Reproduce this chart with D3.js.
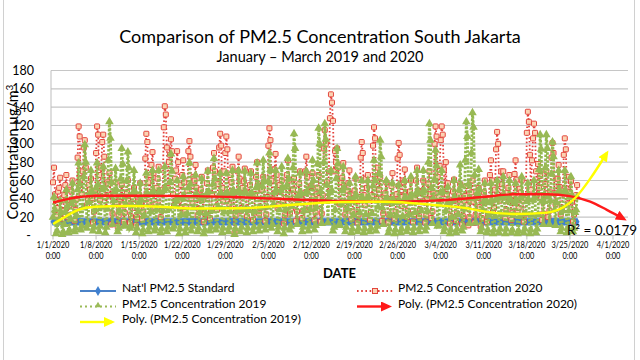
<!DOCTYPE html>
<html>
<head>
<meta charset="utf-8">
<script src="https://cdn.jsdelivr.net/npm/d3@7/dist/d3.min.js"></script>
<style>
  body { margin: 0; background: #fff; }
  svg { display: block; }
  text { font-family: Lato, "Open Sans", sans-serif; fill: #000; }
</style>
</head>
<body>
<div id="chart"></div>
<script>
// readings per day (hour of day), Jan 1 .. Mar 26
var readHours = [0, 4, 8, 12, 16, 20];

// PM2.5 2020, one row per day
var pm2020 = [
  [58,74,45,22,30,48],[52,63,40,18,27,44],[55,66,38,20,33,50],[48,60,35,16,28,40],
  [85,119,108,62,45,70],[96,104,74,33,40,55],[50,62,41,14,26,47],
  [90,119,110,66,38,74],[102,110,86,42,30,58],[56,68,44,12,24,46],[45,58,36,10,22,40],
  [42,55,33,15,25,39],[47,60,38,14,21,43],[40,52,30,11,20,37],
  [44,57,35,18,26,41],[84,111,102,58,36,66],[77,91,68,30,34,52],[62,75,48,20,28,50],
  [118,141,132,96,52,80],[88,105,92,45,33,62],[71,92,80,38,30,55],
  [66,82,58,26,31,49],[92,103,86,40,35,64],[60,77,52,22,29,48],[50,64,39,15,24,43],
  [57,71,46,19,27,45],[74,90,70,31,28,56],[96,111,98,52,37,70],
  [90,108,94,47,34,66],[58,75,44,3,22,47],[70,86,62,27,30,52],[59,73,48,21,28,46],
  [55,70,44,17,25,45],[64,80,56,24,30,50],[50,64,40,16,23,42],
  [98,117,104,60,40,72],[72,89,66,30,33,55],[48,60,37,13,22,41],[66,82,60,25,29,50],
  [50,62,40,16,26,44],[56,70,45,19,27,46],[70,86,64,28,31,53],
  [54,68,42,17,25,45],[52,66,41,15,24,44],[95,115,100,58,38,70],[128,154,145,125,70,92],
  [80,95,74,35,34,58],[63,79,54,23,29,49],[57,71,45,18,26,46],
  [49,62,38,14,23,42],[85,102,90,44,33,62],[52,66,41,17,25,44],[98,118,106,62,40,74],
  [50,64,40,16,24,43],[46,58,36,14,22,40],[54,68,43,18,26,45],
  [84,101,88,42,32,60],[58,72,47,20,27,47],[48,60,37,15,23,41],[60,74,49,21,28,48],
  [47,60,38,14,22,40],[56,70,45,19,26,46],[100,119,108,64,42,76],
  [104,119,110,72,45,80],[45,57,35,13,21,39],[48,61,38,16,24,42],[44,56,34,12,21,38],
  [43,54,33,11,20,37],[47,60,37,14,22,41],[41,52,31,10,19,36],
  [47,60,38,15,23,41],[66,82,60,26,30,50],[94,113,100,56,38,70],[56,70,45,19,27,47],
  [52,66,42,17,25,44],[67,82,61,27,30,51],[47,60,38,15,23,41],
  [112,135,124,88,50,82],[106,122,112,70,44,78],[52,65,42,17,24,44],[56,70,46,20,27,47],
  [85,101,90,46,34,62],[62,77,53,23,29,49],[88,106,94,48,35,64],
  [47,59,37,15,23,41],[44,55]
];

// PM2.5 2019, same calendar days
var pm2019 = [
  [20,42,28,2,5,14],[18,38,25,1,4,12],[26,50,32,3,6,18],[35,57,38,4,8,22],
  [50,79,56,6,10,30],[64,99,80,8,12,36],[46,71,48,5,9,28],
  [52,79,55,4,10,31],[50,75,52,3,9,29],[82,124,106,58,12,38],[48,73,50,4,8,27],
  [62,95,78,10,11,34],[60,91,74,8,10,33],[47,71,48,3,8,26],
  [36,57,39,2,6,22],[44,68,46,4,9,26],[46,71,49,5,8,28],[45,71,47,3,7,27],
  [49,75,51,4,9,29],[58,89,70,7,10,33],[39,60,41,2,7,23],
  [41,64,43,3,8,24],[52,79,56,5,10,30],[43,66,45,4,8,25],[40,62,42,2,6,24],
  [46,70,48,5,9,27],[56,84,62,6,10,31],[44,68,46,3,8,26],
  [45,68,47,4,9,26],[46,71,49,1,7,27],[47,71,48,4,9,28],[46,70,47,3,8,27],
  [44,68,46,4,9,26],[52,79,55,5,10,30],[54,82,60,6,11,31],
  [59,90,72,8,12,34],[47,71,49,4,9,28],[49,75,52,2,8,29],[55,84,62,6,10,32],
  [74,111,95,40,12,37],[45,68,46,4,9,27],[46,70,48,5,10,28],
  [54,82,60,6,11,31],[78,117,100,48,13,38],[80,122,105,55,14,40],[47,71,49,5,9,28],
  [62,95,78,12,11,35],[49,75,52,4,9,29],[37,57,39,3,7,22],
  [42,64,44,4,8,25],[39,60,41,3,7,23],[40,60,42,4,8,24],[54,82,60,5,10,31],
  [68,104,86,30,12,36],[39,60,41,3,7,23],[37,57,39,2,6,22],
  [36,55,38,3,7,21],[39,60,41,4,8,23],[42,64,44,3,8,25],[46,71,48,4,9,27],
  [47,71,49,5,9,27],[80,122,104,52,13,40],[61,93,76,10,11,34],
  [47,71,48,4,8,27],[34,53,36,2,6,20],[39,60,41,3,7,23],[50,77,54,5,9,29],
  [82,124,108,56,13,40],[90,134,118,66,14,42],[47,72,50,4,8,28],
  [37,57,39,3,6,22],[36,57,38,2,6,21],[39,60,41,3,7,23],[41,64,43,2,7,24],
  [38,60,40,3,6,22],[36,57,38,2,5,21],[41,64,43,3,7,24],
  [37,57,39,2,6,22],[39,60,41,3,7,23],[72,110,94,38,12,37],[74,110,95,42,12,38],
  [67,102,86,28,11,36],[46,71,49,4,8,27],[47,71,48,3,8,27],
  [42,64,44,4,8,25],[28,42]
];

var natStandard = 15;

// polynomial trend lines (day offset from Jan 1, value)
var trend2020Days = [0, 4, 7, 15, 23, 30.4, 38.5, 46.7, 54, 62, 70.2, 74.8, 80.3, 84, 87.3, 90, 92.8];
var trend2020 =     [36, 41.7, 43.4, 43.4, 43, 41.7, 39.5, 37.6, 36.9, 38, 42.3, 45, 45, 43, 37, 28, 18];
var trend2019Days = [0, 2, 4, 6.8, 12.2, 17.7, 22.8, 30.4, 38.5, 46.7, 54, 62, 67.3, 70.2, 75.4, 80.3, 83, 85, 87.3, 90];
var trend2019 =     [12.5, 20.5, 27.8, 31.4, 32.2, 31.4, 29.5, 29.7, 33.3, 36.5, 36.9, 33.3, 29.7, 26, 23.5, 25, 31, 42, 62, 90];
var rSquared = "R² = 0.0179";

var yTicks = [0, 20, 40, 60, 80, 100, 120, 140, 160, 180];
var xTickLabels = ["1/1/2020", "1/8/2020", "1/15/2020", "1/22/2020", "1/29/2020", "2/5/2020", "2/12/2020",
  "2/19/2020", "2/26/2020", "3/4/2020", "3/11/2020", "3/18/2020", "3/25/2020", "4/1/2020"];
var legendLabels = ["Nat'l PM2.5 Standard", "PM2.5 Concentration 2020", "PM2.5 Concentration 2019",
  "Poly. (PM2.5 Concentration 2020)", "Poly. (PM2.5 Concentration 2019)"];

var W = 640, H = 360,
    plotLeft = 51, plotRight = 628,
    start = new Date(2020, 0, 1),
    parse = d3.timeParse("%m/%d/%Y");

var x = d3.scaleTime().domain([start, new Date(2020, 3, 1)]).range([53, 613]);
var y = d3.scaleLinear().domain([0, 180]).range([235.5, 70.5]);

function dayToDate(d) { return new Date(start.getTime() + d * 864e5); }

function flatten(days) {
  var pts = [];
  days.forEach(function(vals, d) {
    vals.forEach(function(v, k) {
      pts.push({t: new Date(2020, 0, 1 + d, readHours[k]), v: v});
    });
  });
  return pts;
}

var pts2020 = flatten(pm2020),
    pts2019 = flatten(pm2019),
    ptsStd = pts2020.map(function(p) { return {t: p.t, v: natStandard}; });

var svg = d3.select("#chart").append("svg")
  .attr("width", W).attr("height", H);

// arrow heads for trend lines
var defs = svg.append("defs");
[["arrRed", "#ff1a1a"], ["arrYellow", "#ffff00"]].forEach(function(a) {
  defs.append("marker").attr("id", a[0])
    .attr("markerUnits", "userSpaceOnUse")
    .attr("markerWidth", 11).attr("markerHeight", 10)
    .attr("refX", 8).attr("refY", 5).attr("orient", "auto")
    .append("path").attr("d", "M0,0 L11,5 L0,10 Z").attr("fill", a[1]);
});

// chart border
svg.append("rect").attr("x", 3.5).attr("y", -2).attr("width", 631).attr("height", H + 4)
  .attr("fill", "none").attr("stroke", "#d0d0d0");

// titles
svg.append("text").attr("x", 320).attr("y", 43).attr("text-anchor", "middle")
  .style("font-size", "18px").text("Comparison of PM2.5 Concentration South Jakarta");
svg.append("text").attr("x", 320).attr("y", 62).attr("text-anchor", "middle")
  .style("font-size", "14.5px").text("January – March 2019 and 2020");

// gridlines
svg.append("g").selectAll("line").data(yTicks.slice(1)).enter().append("line")
  .attr("x1", plotLeft).attr("x2", plotRight)
  .attr("y1", function(d) { return y(d); }).attr("y2", function(d) { return y(d); })
  .attr("stroke", "#c6c6c6").attr("stroke-width", 1.2);

// axes lines
svg.append("line").attr("x1", plotLeft).attr("x2", plotLeft).attr("y1", y(0)).attr("y2", y(180))
  .attr("stroke", "#bdbdbd");
svg.append("line").attr("x1", plotLeft).attr("x2", plotRight).attr("y1", y(0)).attr("y2", y(0))
  .attr("stroke", "#bdbdbd");

// y tick labels
svg.append("g").selectAll("text").data(yTicks).enter().append("text")
  .attr("x", function(d) { return d === 0 ? 31 : 34; })
  .attr("y", function(d) { return y(d) + 4.5; })
  .attr("text-anchor", "end").style("font-size", "12.5px")
  .text(function(d) { return d === 0 ? "-" : d; });

// x ticks + labels (narrowed to fit like the original's condensed face)
var xt = svg.append("g").selectAll("g").data(xTickLabels).enter().append("g")
  .attr("transform", function(d) { return "translate(" + x(parse(d)) + ",0)"; });
xt.append("line").attr("y1", y(0)).attr("y2", y(0) + 4).attr("stroke", "#bdbdbd");
xt.append("text").attr("y", 248.5).attr("text-anchor", "middle").style("font-size", "9.5px")
  .attr("transform", "scale(0.78,1)")
  .text(function(d) { return d; });
xt.append("text").attr("y", 259).attr("text-anchor", "middle").style("font-size", "9.5px")
  .attr("transform", "scale(0.78,1)")
  .text("0:00");

// axis titles
svg.append("text").attr("x", (plotLeft + plotRight) / 2).attr("y", 278).attr("text-anchor", "middle")
  .style("font-size", "13px").style("font-weight", "bold").text("DATE");
var yl = svg.append("text").attr("transform", "translate(18,152) rotate(-90)")
  .attr("text-anchor", "middle").style("font-size", "14.5px");
yl.append("tspan").text("Concentration  μg/m");
yl.append("tspan").attr("dy", -5).style("font-size", "10px").text("3");

var line = d3.line().x(function(d) { return x(d.t); }).y(function(d) { return y(d.v); });

// national standard
svg.append("path").datum(ptsStd).attr("d", line)
  .attr("fill", "none").attr("stroke", "#4a82c8").attr("stroke-width", 2);
svg.append("g").selectAll("path").data(ptsStd).enter().append("path")
  .attr("d", d3.symbol().type(d3.symbolDiamond).size(20))
  .attr("transform", function(d) { return "translate(" + x(d.t) + "," + y(d.v) + ")"; })
  .attr("fill", "#3f80d0");

// 2020
svg.append("path").datum(pts2020).attr("d", line)
  .attr("fill", "none").attr("stroke", "#e3403a").attr("stroke-width", 1.8)
  .attr("stroke-dasharray", "1.6,2.2");
svg.append("g").selectAll("rect").data(pts2020).enter().append("rect")
  .attr("x", function(d) { return x(d.t) - 2.5; })
  .attr("y", function(d) { return y(d.v) - 2.5; })
  .attr("width", 5).attr("height", 5).attr("rx", 0.8)
  .attr("fill", "#fbd3b3").attr("stroke", "#e3463e").attr("stroke-width", 1);

// 2019
svg.append("path").datum(pts2019).attr("d", line)
  .attr("fill", "none").attr("stroke", "#93b84e").attr("stroke-width", 2.8)
  .attr("stroke-dasharray", "2.4,1.6");
svg.append("g").selectAll("path").data(pts2019).enter().append("path")
  .attr("d", d3.symbol().type(d3.symbolTriangle).size(32))
  .attr("transform", function(d) { return "translate(" + x(d.t) + "," + y(d.v) + ")"; })
  .attr("fill", "#98b954");

// trend lines
var tline = d3.line().curve(d3.curveMonotoneX)
  .x(function(d) { return x(dayToDate(d[0])); }).y(function(d) { return y(d[1]); });
svg.append("path").datum(d3.zip(trend2020Days, trend2020)).attr("d", tline)
  .attr("fill", "none").attr("stroke", "#ff1a1a").attr("stroke-width", 2.4)
  .attr("marker-end", "url(#arrRed)");
svg.append("path").datum(d3.zip(trend2019Days, trend2019)).attr("d", tline)
  .attr("fill", "none").attr("stroke", "#ffff00").attr("stroke-width", 2.4)
  .attr("marker-end", "url(#arrYellow)");

svg.append("text").attr("x", 567).attr("y", 234.5).style("font-size", "13.5px").text(rSquared);

// legend
var legX = [80, 357], txtX = [122, 398], rowY = [292, 307.5, 323];
legendLabels.forEach(function(lab, i) {
  var col = i % 2, row = Math.floor(i / 2),
      x0 = legX[col], x1 = x0 + 36, ly = rowY[row] - 1,
      g = svg.append("g");
  if (i === 0) {
    g.append("line").attr("x1", x0).attr("x2", x1).attr("y1", ly).attr("y2", ly)
      .attr("stroke", "#4a82c8").attr("stroke-width", 2);
    g.append("path").attr("d", d3.symbol().type(d3.symbolDiamond).size(30))
      .attr("transform", "translate(" + (x0 + 18) + "," + ly + ")").attr("fill", "#3f80d0");
  } else if (i === 1) {
    g.append("line").attr("x1", x0).attr("x2", x1).attr("y1", ly).attr("y2", ly)
      .attr("stroke", "#e3403a").attr("stroke-width", 1.8).attr("stroke-dasharray", "1.6,2.6");
    g.append("rect").attr("x", x0 + 15.5).attr("y", ly - 2.5).attr("width", 5).attr("height", 5)
      .attr("fill", "#fbd3b3").attr("stroke", "#e3463e");
  } else if (i === 2) {
    g.append("line").attr("x1", x0).attr("x2", x1).attr("y1", ly).attr("y2", ly)
      .attr("stroke", "#9bbb59").attr("stroke-width", 2).attr("stroke-dasharray", "2,3");
    g.append("path").attr("d", d3.symbol().type(d3.symbolTriangle).size(18))
      .attr("transform", "translate(" + (x0 + 18) + "," + (ly - 1) + ")").attr("fill", "#9bbb59");
  } else {
    g.append("line").attr("x1", x0).attr("x2", x1 - 4).attr("y1", ly).attr("y2", ly)
      .attr("stroke", i === 3 ? "#ff1a1a" : "#ffff00").attr("stroke-width", 2.4)
      .attr("marker-end", i === 3 ? "url(#arrRed)" : "url(#arrYellow)");
  }
  g.append("text").attr("x", txtX[col]).attr("y", rowY[row]).style("font-size", "12px").text(lab);
});
</script>
</body>
</html>
